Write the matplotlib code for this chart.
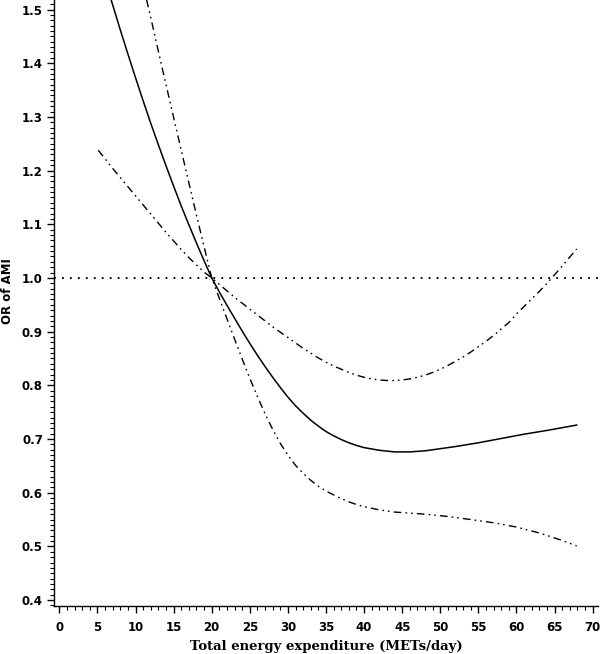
import numpy as np
import matplotlib
matplotlib.use("Agg")
import matplotlib.pyplot as plt
from matplotlib.ticker import MultipleLocator, FormatStrFormatter

# odds ratio curve (solid)
or_x = [6.8, 8, 9, 10, 11, 12, 13, 14, 15, 16, 17, 18, 19, 20,
        21, 22, 23, 24, 25, 26, 27, 28, 29, 30, 31, 32, 33, 34, 35,
        36, 37, 38, 39, 40, 42, 44, 46, 48, 50, 52, 55, 58, 61, 64, 67.9]
or_y = [1.518, 1.462, 1.417, 1.373, 1.330, 1.288, 1.248, 1.209, 1.171, 1.134,
        1.099, 1.065, 1.032, 1.0,
        0.974, 0.949, 0.925, 0.901, 0.878, 0.856, 0.835, 0.815, 0.796, 0.778,
        0.762, 0.748, 0.735, 0.724, 0.714, 0.706, 0.699, 0.693, 0.688, 0.684,
        0.679, 0.676, 0.676, 0.678, 0.682, 0.686, 0.693, 0.701, 0.709, 0.716, 0.726]

# confidence line 1: steep part left of 20, lower bound right of 20
ci1_x = [11.45, 12, 13, 14, 15, 16, 17, 18, 19, 20,
         21, 22, 23, 24, 25, 26, 27, 28, 29, 30, 31, 32, 33, 34, 35,
         36, 37, 38, 39, 40, 42, 44, 46, 48, 50.8, 54, 57, 60, 63, 66, 67.9]
ci1_y = [1.518, 1.485, 1.422, 1.360, 1.299, 1.238, 1.177, 1.117, 1.058, 1.0,
         0.962, 0.924, 0.886, 0.849, 0.813, 0.779, 0.747, 0.718, 0.692, 0.670,
         0.651, 0.636, 0.623, 0.612, 0.603, 0.596, 0.589, 0.583, 0.578, 0.574,
         0.568, 0.564, 0.562, 0.560, 0.556, 0.550, 0.544, 0.536, 0.525, 0.511, 0.501]

# confidence line 2: shallow part left of 20, upper bound right of 20
ci2_x = [5.1, 6, 7, 8, 9, 10, 11, 12, 13, 14, 15, 16, 17, 18, 19, 20,
         21, 22, 23, 24, 25, 26, 27, 28, 29, 30, 31, 32, 33, 34, 35,
         36, 37, 38, 39, 40, 41, 42, 43, 44, 45, 46, 47, 48, 49, 50,
         51, 52, 53, 54, 55, 56, 57, 58, 59, 60, 61, 62, 63, 64, 65,
         66, 67, 67.9]
ci2_y = [1.238, 1.222, 1.204, 1.187, 1.170, 1.153, 1.136, 1.119, 1.102, 1.085,
         1.069, 1.053, 1.038, 1.024, 1.011, 1.0,
         0.988, 0.976, 0.964, 0.953, 0.942, 0.931, 0.920, 0.909, 0.899, 0.889,
         0.879, 0.869, 0.860, 0.851, 0.843, 0.836, 0.830, 0.824, 0.819, 0.815,
         0.812, 0.810, 0.809, 0.809, 0.810, 0.812, 0.815, 0.819, 0.824, 0.830,
         0.837, 0.845, 0.853, 0.862, 0.872, 0.882, 0.893, 0.905, 0.917, 0.933,
         0.947, 0.961, 0.975, 0.990, 1.006, 1.022, 1.039, 1.054]

ref_y = 1.0

fig = plt.figure(figsize=(6, 6.54), dpi=100)
ax = fig.add_axes([0.09, 0.0734, 0.9067, 0.9266])

# long dash followed by two dots, like the CI lines in the original
dash_dot_dot = (0, (5.5, 3.0, 1.2, 2.8, 1.2, 3.0))
ax.axhline(ref_y, color="black", lw=1.4, linestyle=(0, (0.9, 3.2)))
ax.plot(ci2_x, ci2_y, color="black", lw=1.0, linestyle=dash_dot_dot)
ax.plot(ci1_x, ci1_y, color="black", lw=1.0, linestyle=dash_dot_dot)
ax.plot(or_x, or_y, color="black", lw=1.1)

ax.set_xlim(-0.7, 70.7)
ax.set_ylim(0.389, 1.5177)

ax.xaxis.set_major_locator(MultipleLocator(5))
ax.xaxis.set_minor_locator(MultipleLocator(1))
ax.yaxis.set_major_locator(MultipleLocator(0.1))
ax.yaxis.set_minor_locator(MultipleLocator(0.01))
ax.yaxis.set_major_formatter(FormatStrFormatter("%.1f"))

for side in ["top", "right"]:
    ax.spines[side].set_visible(False)
for side in ["left", "bottom"]:
    ax.spines[side].set_linewidth(1.0)

ax.tick_params(which="major", length=5, width=1.0, direction="out")
ax.tick_params(which="minor", length=3, width=0.8, direction="out")
ax.tick_params(axis="x", which="major", pad=6)
ax.tick_params(axis="y", which="major", pad=3)

for lab in ax.get_xticklabels() + ax.get_yticklabels():
    lab.set_fontfamily("DejaVu Sans")
    lab.set_fontweight("bold")
    lab.set_fontsize(8.5)

ax.set_xlabel("Total energy expenditure (METs/day)", family="DejaVu Serif",
              fontweight="bold", fontsize=9.5, labelpad=4)
ax.set_ylabel("OR of AMI", family="DejaVu Sans", fontweight="bold", fontsize=8.5)
ax.yaxis.set_label_coords(-0.074, 0.52)

fig.savefig("out.png", dpi=100)
